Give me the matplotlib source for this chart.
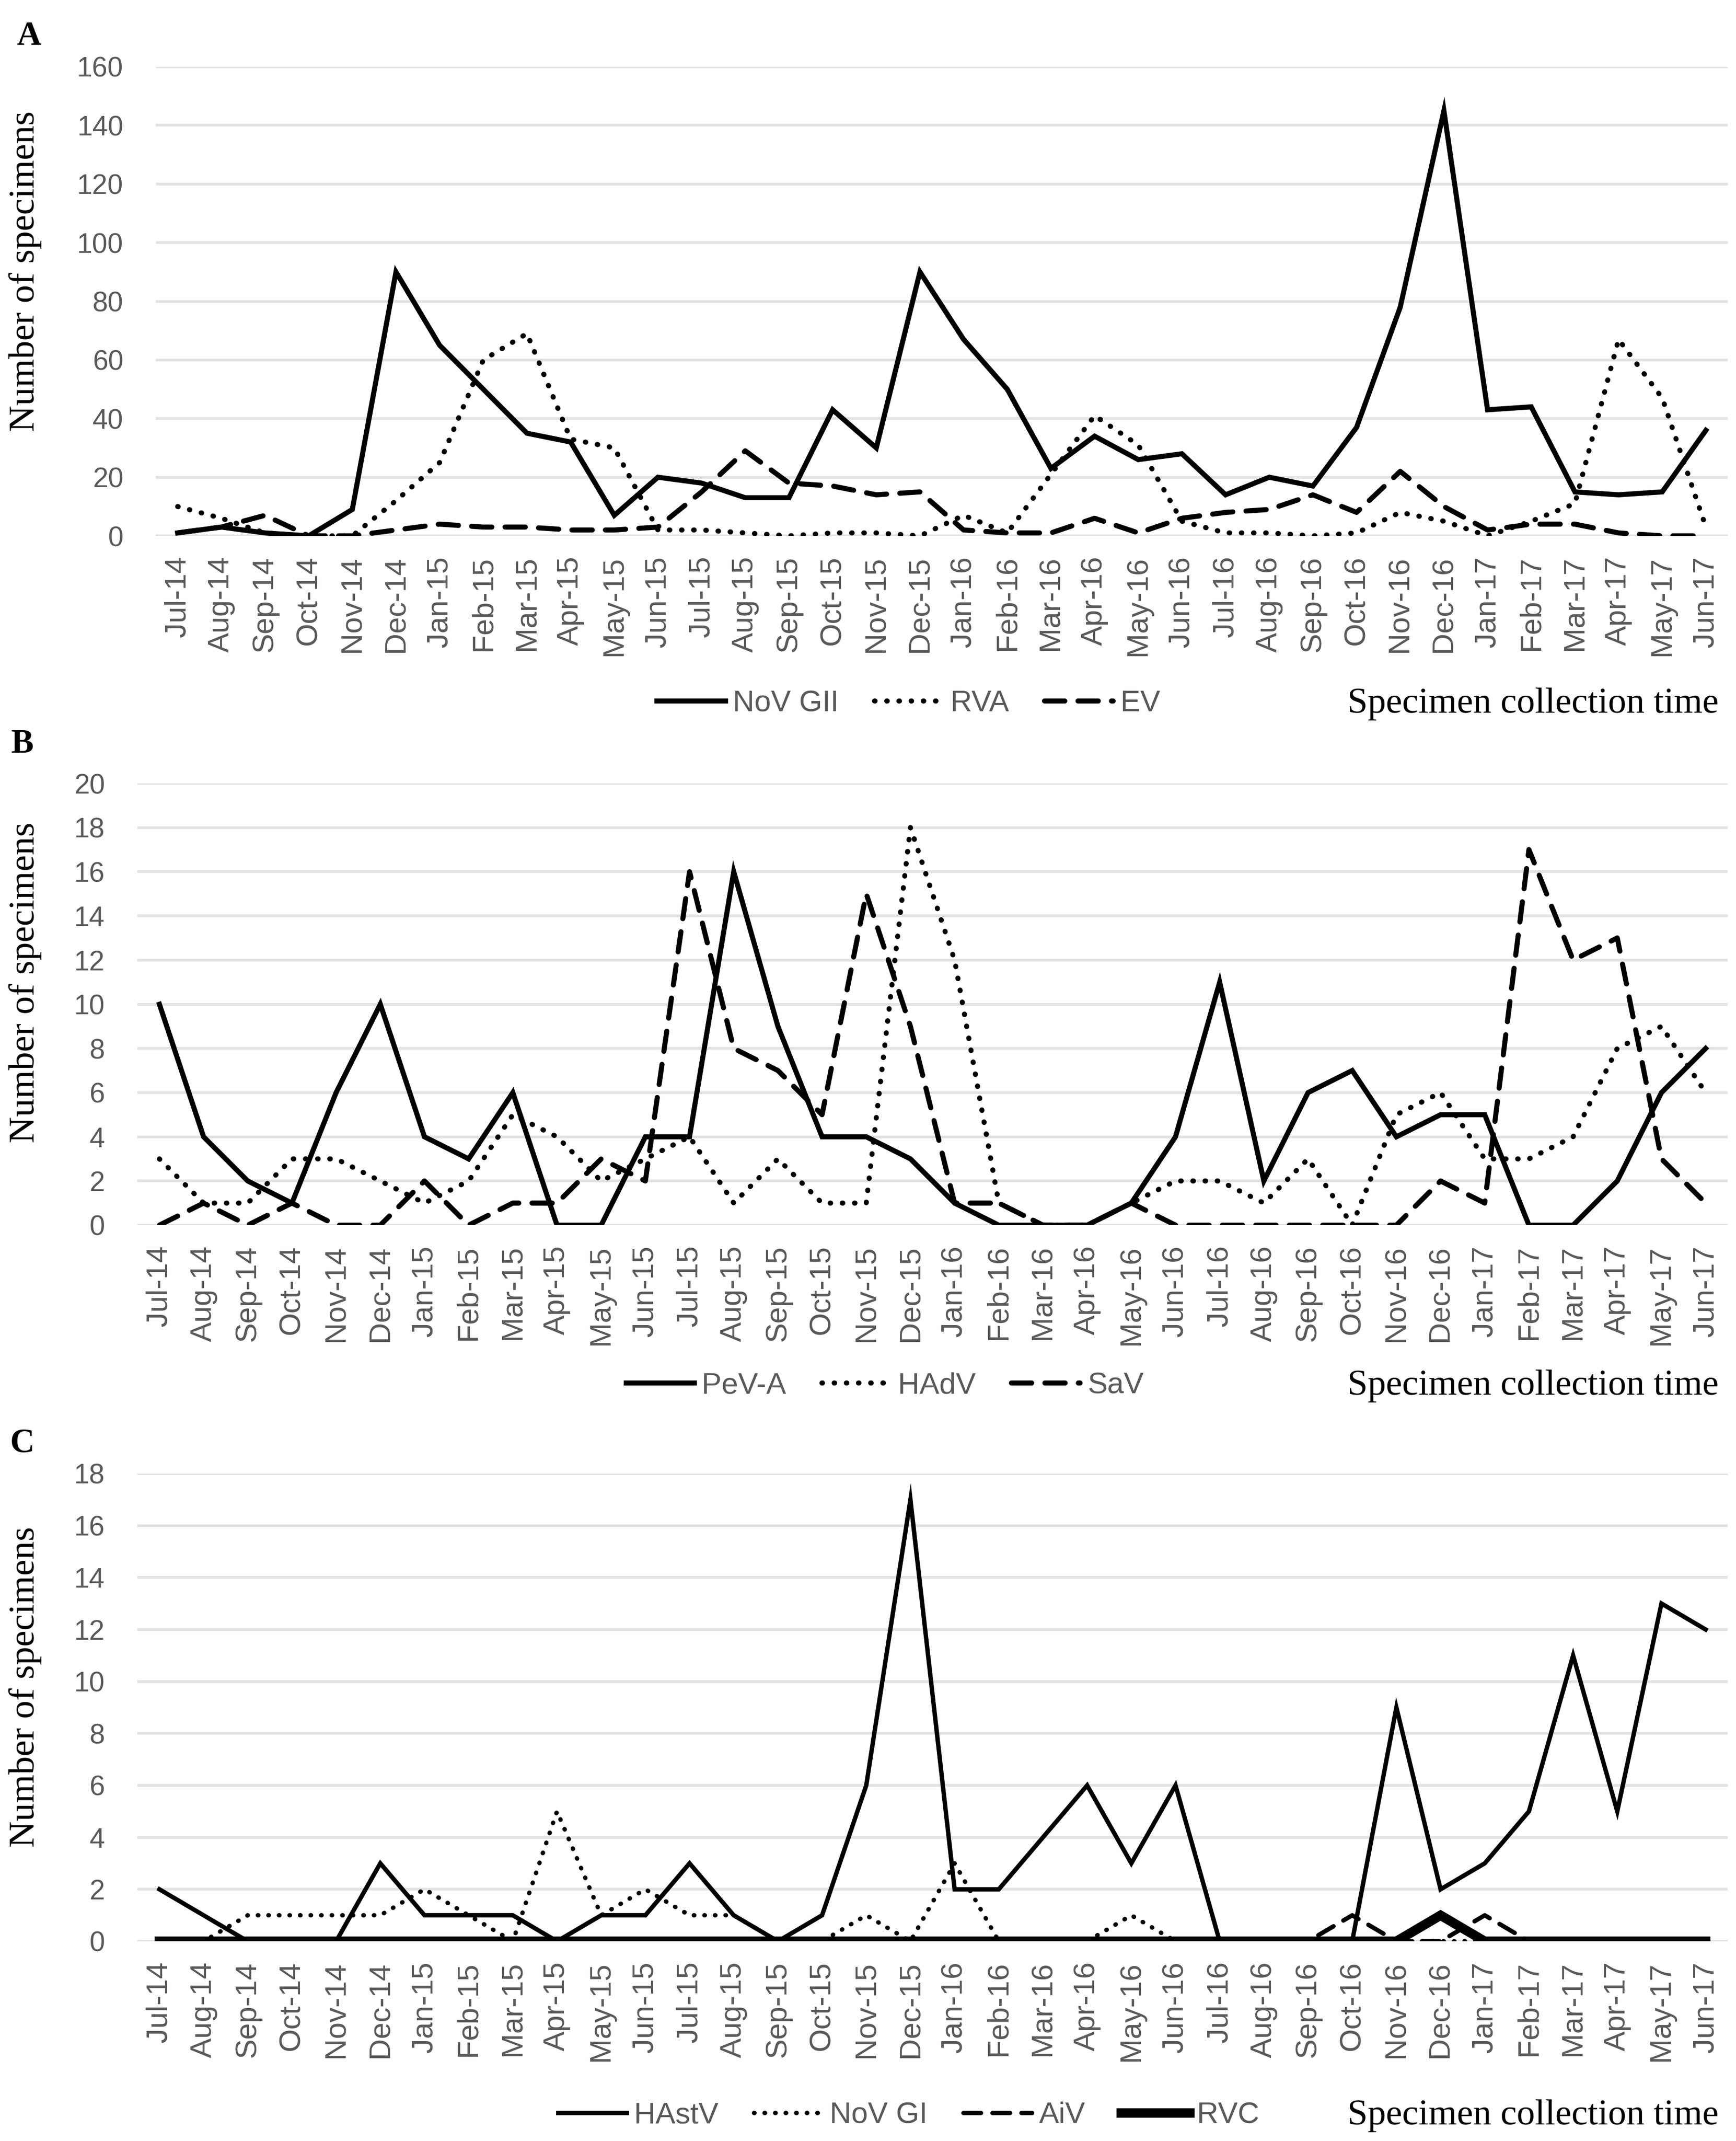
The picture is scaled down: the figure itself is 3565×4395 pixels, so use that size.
import matplotlib
matplotlib.use("Agg")
import matplotlib.pyplot as plt
import numpy as np

months = [
    "Jul-14", "Aug-14", "Sep-14", "Oct-14", "Nov-14", "Dec-14",
    "Jan-15", "Feb-15", "Mar-15", "Apr-15", "May-15", "Jun-15",
    "Jul-15", "Aug-15", "Sep-15", "Oct-15", "Nov-15", "Dec-15",
    "Jan-16", "Feb-16", "Mar-16", "Apr-16", "May-16", "Jun-16",
    "Jul-16", "Aug-16", "Sep-16", "Oct-16", "Nov-16", "Dec-16",
    "Jan-17", "Feb-17", "Mar-17", "Apr-17", "May-17", "Jun-17",
]

# panel A
nov_gii = [1, 3, 1, 0, 9, 90, 65, 50, 35, 32, 7, 20,
           18, 13, 13, 43, 30, 90, 67, 50, 23, 34, 26, 28,
           14, 20, 17, 37, 78, 145, 43, 44, 15, 14, 15, 36]
rva = [10, 6, 1, 0, 0, 12, 25, 60, 69, 33, 30, 2,
       2, 1, 0, 1, 1, 0, 7, 1, 21, 41, 31, 5,
       1, 1, 0, 1, 8, 5, 0, 5, 11, 67, 47, 3]
ev = [1, 3, 7, 0, 0, 2, 4, 3, 3, 2, 2, 3,
      15, 29, 18, 17, 14, 15, 2, 1, 1, 6, 1, 6,
      8, 9, 14, 8, 22, 10, 2, 4, 4, 1, 0, 0]

# panel B
pev_a = [10, 4, 2, 1, 6, 10, 4, 3, 6, 0, 0, 4,
         4, 16, 9, 4, 4, 3, 1, 0, 0, 0, 1, 4,
         11, 2, 6, 7, 4, 5, 5, 0, 0, 2, 6, 8]
hadv = [3, 1, 1, 3, 3, 2, 1, 2, 5, 4, 2, 3,
        4, 1, 3, 1, 1, 18, 12, 1, 0, 0, 1, 2,
        2, 1, 3, 0, 5, 6, 3, 3, 4, 8, 9, 6]
sav = [0, 1, 0, 1, 0, 0, 2, 0, 1, 1, 3, 2,
       16, 8, 7, 5, 15, 9, 1, 1, 0, 0, 1, 0,
       0, 0, 0, 0, 0, 2, 1, 17, 12, 13, 3, 1]

# panel C
hastv = [2, 1, 0, 0, 0, 3, 1, 1, 1, 0, 1, 1,
         3, 1, 0, 1, 6, 17, 2, 2, 4, 6, 3, 6,
         0, 0, 0, 0, 9, 2, 3, 5, 11, 5, 13, 12]
nov_gi = [0, 0, 1, 1, 1, 1, 2, 1, 0, 5, 1, 2,
          1, 1, 0, 0, 1, 0, 3, 0, 0, 0, 1, 0,
          0, 0, 0, 0, 0, 0, 0, 0, 0, 0, 0, 0]
aiv = [0, 0, 0, 0, 0, 0, 0, 0, 0, 0, 0, 0,
       0, 0, 0, 0, 0, 0, 0, 0, 0, 0, 0, 0,
       0, 0, 0, 1, 0, 0, 1, 0, 0, 0, 0, 0]
rvc = [0, 0, 0, 0, 0, 0, 0, 0, 0, 0, 0, 0,
       0, 0, 0, 0, 0, 0, 0, 0, 0, 0, 0, 0,
       0, 0, 0, 0, 0, 1, 0, 0, 0, 0, 0, 0]

W, H = 3565, 4395
DPI = 100
GRAY = "#595959"
SANS = ["Liberation Sans", "DejaVu Sans"]
SERIF = ["Liberation Serif", "DejaVu Serif"]

fig = plt.figure(figsize=(W / DPI, H / DPI), dpi=DPI)

LW = 7.5
solid = dict(color="black", lw=LW, linestyle="-", solid_joinstyle="miter")
dotted = dict(color="black", lw=LW, linestyle=(0, (0.1, 2.3)), dash_capstyle="round")
dashed = dict(color="black", lw=LW, linestyle=(0, (4, 2.6)), dash_capstyle="round")


def px_axes(left, top, right, bottom):
    return fig.add_axes([left / W, 1 - bottom / H, (right - left) / W, (bottom - top) / H])


def style_axes(ax, ymax, ystep):
    x = np.arange(len(months))
    ax.set_xlim(-0.5, len(months) - 0.5)
    ax.set_ylim(0, ymax)
    ax.set_yticks(np.arange(0, ymax + 1, ystep))
    ax.set_xticks(x)
    ax.set_xticklabels(months, rotation=90, ha="center", va="top")
    ax.tick_params(length=0, colors=GRAY, labelsize=44)
    ax.tick_params(axis="x", pad=30)
    ax.tick_params(axis="y", pad=48, labelsize=41)
    for lab in ax.get_xticklabels() + ax.get_yticklabels():
        lab.set_family(SANS)
    for s in ax.spines.values():
        s.set_visible(False)
    ax.grid(axis="y", color="#e2e2e2", lw=4)
    ax.set_axisbelow(True)
    return x


def add_legend(ax, cx, cy):
    leg = fig.legend(*ax.get_legend_handles_labels(), loc="center",
                     bbox_to_anchor=(cx / W, 1 - cy / H), ncol=4, frameon=False,
                     handlelength=2.3, handletextpad=0.25, columnspacing=1.2,
                     prop={"family": SANS, "size": 44})
    for t in leg.get_texts():
        t.set_color(GRAY)


def side_texts(letter, lx, ly, label_y, xlab_y):
    fig.text(lx / W, 1 - ly / H, letter, family=SERIF, weight="bold", fontsize=50,
             ha="left", va="baseline")
    fig.text(52 / W, 1 - label_y / H, "Number of specimens", family=SERIF, fontsize=54,
             rotation=90, ha="center", va="center")
    fig.text(3529 / W, 1 - xlab_y / H, "Specimen collection time", family=SERIF,
             fontsize=54, ha="right", va="center")


# A
axA = px_axes(320, 137, 3548, 1100)
x = style_axes(axA, 160, 20)
axA.plot(x, nov_gii, label="NoV GII", **solid)
axA.plot(x, rva, label="RVA", **dotted)
axA.plot(x, ev, label="EV", **dashed)
add_legend(axA, 1866, 1445)
side_texts("A", 34, 92, 557, 1445)

# B
axB = px_axes(282, 1608, 3548, 2515)
x = style_axes(axB, 20, 2)
axB.plot(x, pev_a, label="PeV-A", **solid)
axB.plot(x, hadv, label="HAdV", **dotted)
axB.plot(x, sav, label="SaV", **dashed)
add_legend(axB, 1817, 2845)
side_texts("B", 23, 1545, 2017, 2845)

# C
axC = px_axes(282, 3025, 3548, 3985)
x = style_axes(axC, 18, 2)
axC.plot(x, hastv, label="HAstV", **{**solid, "lw": 6.5})
axC.plot(x, nov_gi, label="NoV GI", **{**dotted, "lw": 6.5})
axC.plot(x, aiv, label="AiV", **{**dashed, "lw": 6.5})
axC.plot(x, rvc, label="RVC", color="black", lw=14, solid_joinstyle="miter")
add_legend(axC, 1866, 4343)
side_texts("C", 21, 2981, 3463, 4343)

fig.savefig("out.png", dpi=DPI)
